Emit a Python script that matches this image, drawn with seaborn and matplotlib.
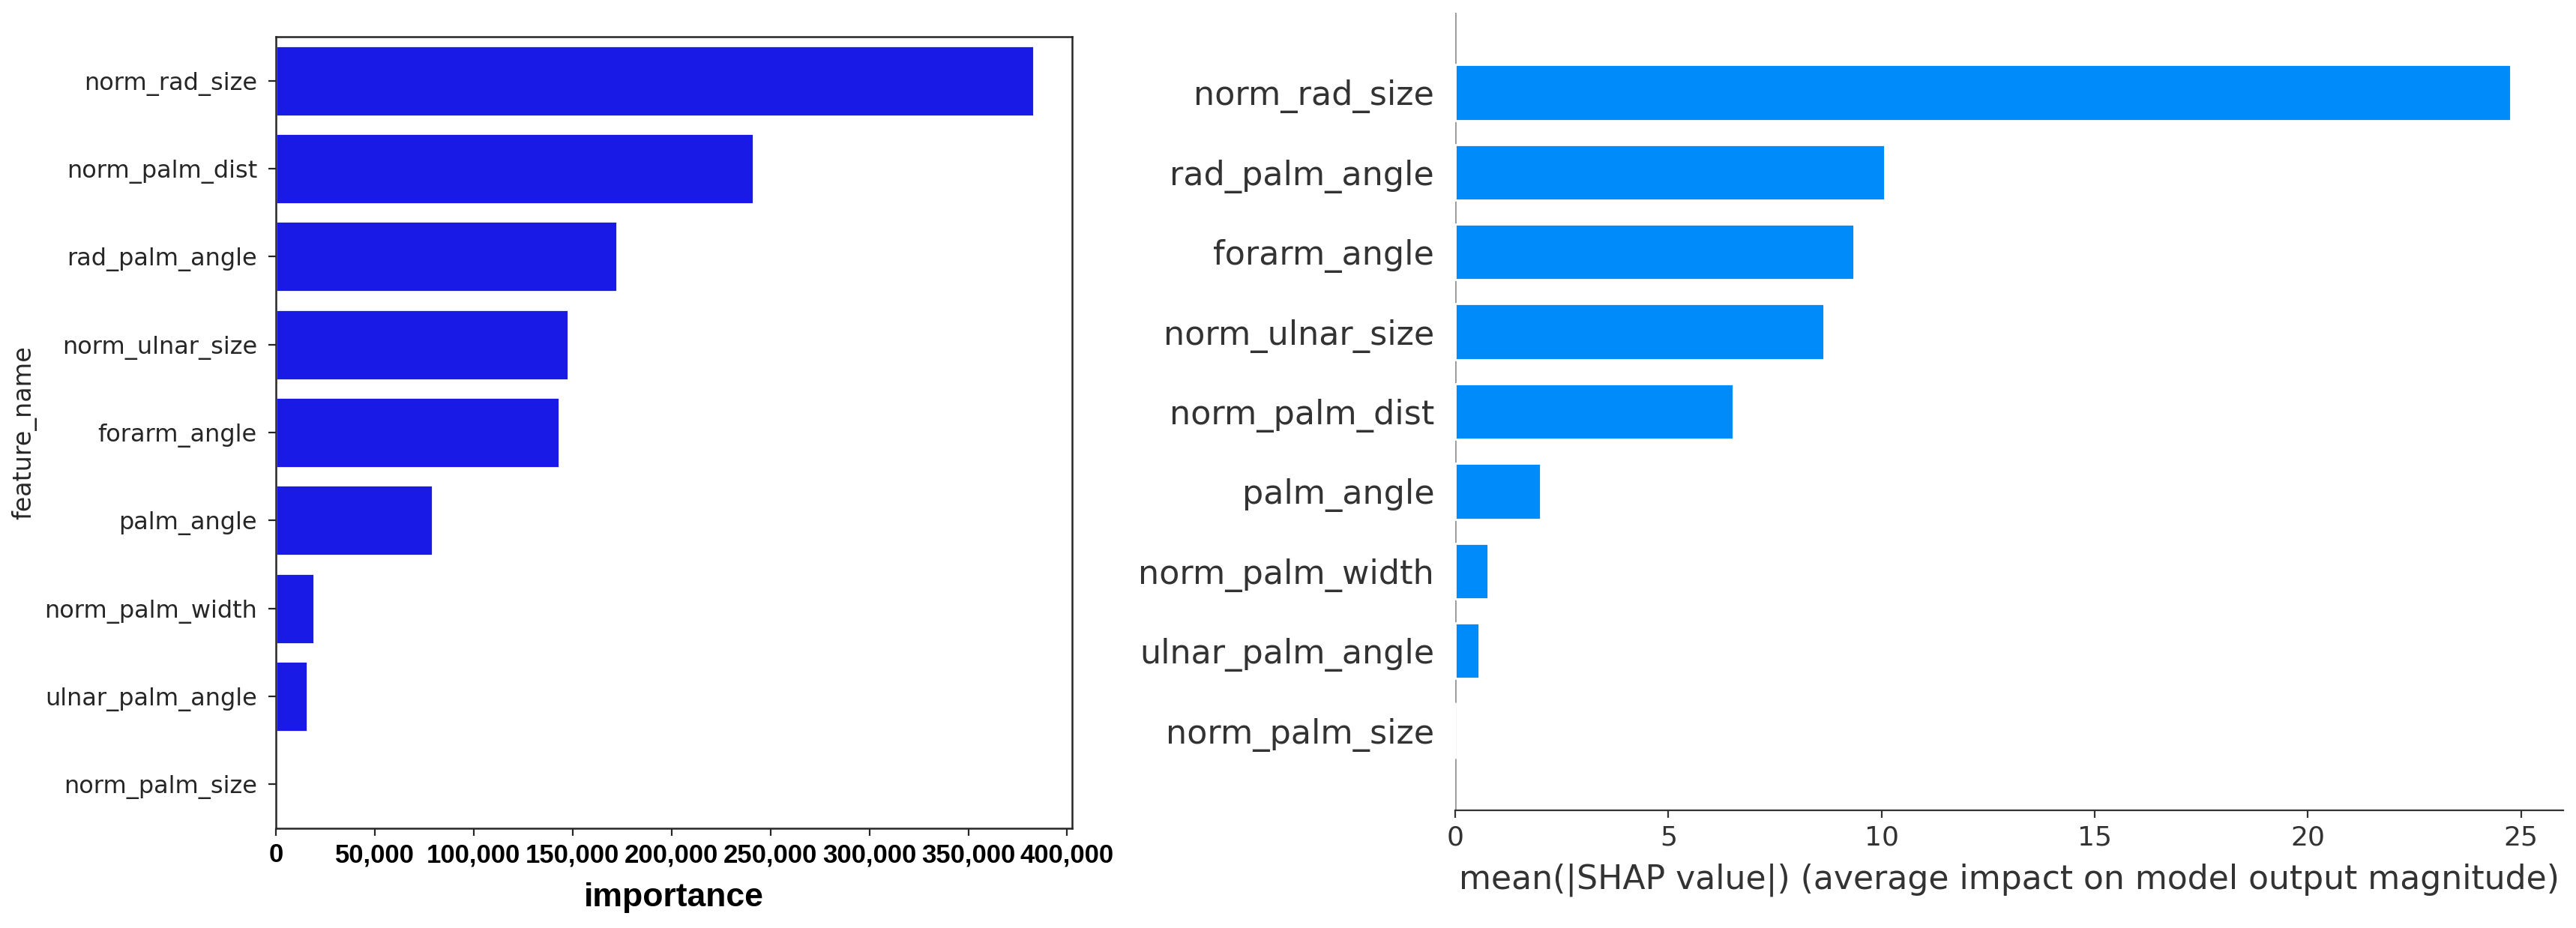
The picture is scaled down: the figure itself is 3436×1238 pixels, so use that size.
import matplotlib
matplotlib.use("Agg")
import matplotlib.pyplot as plt
import matplotlib.ticker as mticker
import pandas as pd
import seaborn as sns

# left panel: feature importance
imp_features = ['norm_rad_size', 'norm_palm_dist', 'rad_palm_angle', 'norm_ulnar_size',
                'forarm_angle', 'palm_angle', 'norm_palm_width', 'ulnar_palm_angle',
                'norm_palm_size']
imp_values = [383300, 241400, 172400, 147700, 143400, 79100, 19200, 16000, 0]

# right panel: mean |SHAP|
shap_features = ['norm_rad_size', 'rad_palm_angle', 'forarm_angle', 'norm_ulnar_size',
                 'norm_palm_dist', 'palm_angle', 'norm_palm_width', 'ulnar_palm_angle',
                 'norm_palm_size']
shap_values = [24.75, 10.08, 9.36, 8.65, 6.53, 2.0, 0.78, 0.57, 0.0]

sns.set_style('ticks')
plt.rcParams['font.family'] = ['DejaVu Sans']

df1 = pd.DataFrame({'feature_name': imp_features, 'importance': imp_values})
df2 = pd.DataFrame({'feature': shap_features, 'shap': shap_values})

fig = plt.figure(figsize=(17.185, 6.19), dpi=200)
ax1 = fig.add_axes([0.10707, 0.10743, 0.30899, 0.85299])
ax2 = fig.add_axes([0.56474, 0.12682, 0.43003, 0.85945])

# ---- left
sns.barplot(data=df1, x='importance', y='feature_name', color='#1a1ae6', saturation=1, ax=ax1)
ax1.set_xticks(range(0, 400001, 50000))
ax1.xaxis.set_major_formatter(mticker.StrMethodFormatter('{x:,.0f}'))
for lab in ax1.get_xticklabels():
    lab.set_fontfamily('Liberation Sans')
    lab.set_fontweight('bold')
    lab.set_fontsize(12.5)
    lab.set_color('black')
ax1.tick_params(axis='y', labelsize=11.5, pad=5.5, length=3.5)
ax1.set_xlabel('importance', fontsize=16, fontweight='bold', family='Liberation Sans',
               color='black', labelpad=7)
ax1.set_ylabel('feature_name', fontsize=12)
ax1.yaxis.set_label_coords(-0.30, 0.5)
for s in ax1.spines.values():
    s.set_linewidth(0.9)

# ---- right (shap summary bar style)
sns.barplot(data=df2, x='shap', y='feature', color='#008bfb', saturation=1,
            width=0.7, ax=ax2)
ax2.set_ylim(9, -1)
ax2.axvline(0, color='#999999', zorder=-1, lw=1)
for side in ['left', 'top', 'right']:
    ax2.spines[side].set_visible(False)
ax2.spines['bottom'].set_color('#333333')
ax2.set_xticks(range(0, 26, 5))
ax2.tick_params(axis='y', length=0, pad=10, labelsize=16, labelcolor='#333333')
ax2.tick_params(axis='x', labelsize=13, color='#333333', labelcolor='#333333')
ax2.set_ylabel('')
ax2.set_xlabel('mean(|SHAP value|) (average impact on model output magnitude)',
               fontsize=15.9, color='#333333', labelpad=6)

fig.savefig('out.png', dpi=200)
